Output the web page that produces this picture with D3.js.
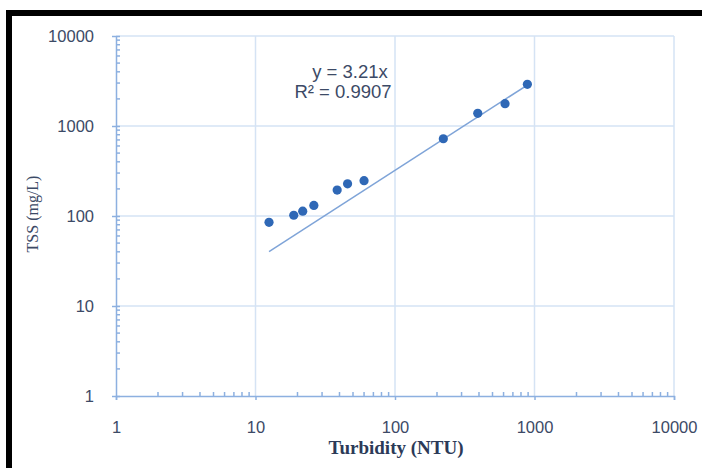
<!DOCTYPE html>
<html>
<head>
<meta charset="utf-8">
<script src="https://cdn.jsdelivr.net/npm/d3@7"></script>
<style>
  html, body { margin: 0; padding: 0; background: #fff; }
  svg { display: block; }
</style>
</head>
<body>
<div id="view"></div>
<script>
(function () {
  // ---------- Data ----------
  const turbidity = [12.5, 18.8, 21.8, 26.2, 38.5, 45.7, 60, 222, 392, 615, 889];
  const tss       = [85, 102, 113, 131, 194, 228, 247, 722, 1384, 1770, 2905];
  const tickVals  = [1, 10, 100, 1000, 10000];
  const slope = 3.21;
  const fitRange = [12.5, 900];
  const eqText = "y = 3.21x";
  const r2Text = "R² = 0.9907";

  const W = 702, H = 468;
  const M = { l: 116, r: 28, t: 36, b: 72 };   // plot area 116..674, 36..396

  const sans = "'Liberation Sans', Arial, sans-serif";
  const serif = "'Liberation Serif', 'Times New Roman', serif";

  const svg = d3.select("#view").append("svg")
    .attr("width", W).attr("height", H);

  // black frame (cropped on right / bottom)
  svg.append("rect")
    .attr("x", 9).attr("y", 13)
    .attr("width", W + 20).attr("height", H + 20)
    .attr("fill", "none").attr("stroke", "#000").attr("stroke-width", 6);

  const x = d3.scaleLog().domain([1, 10000]).range([M.l, W - M.r]);
  const y = d3.scaleLog().domain([1, 10000]).range([H - M.b, M.t]);

  const gridCol = "#d5e3f4", axisCol = "#8db0e0", txtCol = "#3c4a66";

  // grid + plot border
  const grid = svg.append("g");
  grid.selectAll("line.gx").data(tickVals.slice(1)).join("line")
    .attr("x1", d => x(d)).attr("x2", d => x(d))
    .attr("y1", y(10000)).attr("y2", y(1))
    .attr("stroke", gridCol).attr("stroke-width", 1.5);
  grid.selectAll("line.gy").data(tickVals.slice(1)).join("line")
    .attr("x1", x(1)).attr("x2", x(10000))
    .attr("y1", d => y(d)).attr("y2", d => y(d))
    .attr("stroke", gridCol).attr("stroke-width", 1.5);

  // minor ticks
  const minors = [];
  for (let dec = 1; dec < 10000; dec *= 10)
    for (let k = 2; k <= 9; k++) minors.push(dec * k);

  // x axis
  const xa = svg.append("g").attr("transform", `translate(0,${y(1)})`)
    .call(d3.axisBottom(x).tickValues(tickVals).tickFormat(d3.format("d")).tickSize(4).tickPadding(21));
  xa.select(".domain").attr("stroke", axisCol).attr("stroke-width", 1.5);
  xa.selectAll(".tick line").attr("stroke", axisCol).attr("stroke-width", 1.5);
  xa.selectAll("text").attr("fill", txtCol)
    .style("font-family", sans).style("font-size", "16.5px");
  xa.selectAll("line.mx").data(minors).join("line")
    .attr("x1", d => x(d)).attr("x2", d => x(d))
    .attr("y1", 0).attr("y2", -4)
    .attr("stroke", axisCol).attr("stroke-width", 1.5);

  // y axis
  const ya = svg.append("g").attr("transform", `translate(${x(1)},0)`)
    .call(d3.axisLeft(y).tickValues(tickVals).tickFormat(d3.format("d")).tickSizeInner(4).tickSizeOuter(0).tickPadding(18));
  ya.select(".domain").attr("stroke", axisCol).attr("stroke-width", 1.5);
  ya.selectAll(".tick line").attr("stroke", axisCol).attr("stroke-width", 1.5).attr("x2", 4).attr("x1", -4);
  ya.selectAll("text").attr("fill", txtCol)
    .style("font-family", sans).style("font-size", "16.5px");
  ya.selectAll("line.my").data(minors).join("line")
    .attr("x1", 0).attr("x2", 4)
    .attr("y1", d => y(d)).attr("y2", d => y(d))
    .attr("stroke", axisCol).attr("stroke-width", 1.5);

  // trend line
  svg.append("line")
    .attr("x1", x(fitRange[0])).attr("y1", y(fitRange[0] * slope))
    .attr("x2", x(fitRange[1])).attr("y2", y(fitRange[1] * slope))
    .attr("stroke", "#7fa4d8").attr("stroke-width", 1.5);

  // points
  svg.selectAll("circle.pt")
    .data(turbidity.map((t, i) => ({ t, s: tss[i] })))
    .join("circle")
    .attr("cx", d => x(d.t)).attr("cy", d => y(d.s))
    .attr("r", 4.6).attr("fill", "#2f68b6");

  // equation
  svg.append("text").attr("x", 350).attr("y", 78).attr("text-anchor", "middle")
    .attr("fill", txtCol).style("font-family", sans)
    .style("font-size", "18.5px").text(eqText);
  svg.append("text").attr("x", 343).attr("y", 98).attr("text-anchor", "middle")
    .attr("fill", txtCol).style("font-family", sans)
    .style("font-size", "18.5px").text(r2Text);

  // axis titles
  svg.append("text")
    .attr("transform", `translate(38,${214}) rotate(-90)`)
    .attr("text-anchor", "middle").attr("fill", txtCol)
    .style("font-family", serif).style("font-size", "16px")
    .text("TSS (mg/L)");
  svg.append("text")
    .attr("x", 396).attr("y", 454).attr("text-anchor", "middle").attr("fill", "#2c3a58")
    .style("font-family", serif).style("font-size", "19px")
    .style("font-weight", "bold")
    .text("Turbidity (NTU)");
})();
</script>
</body>
</html>
